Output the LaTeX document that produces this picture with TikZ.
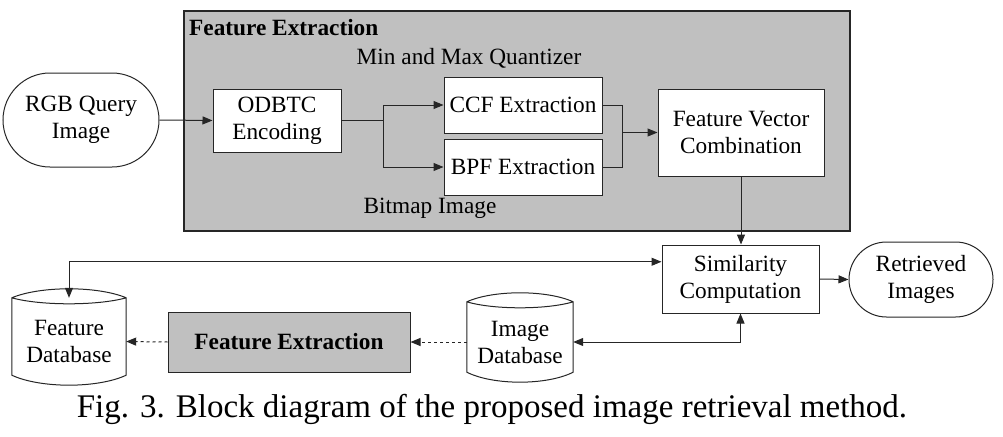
\documentclass[tikz,border=0pt]{standalone}
\usepackage{fontspec}
\setmainfont{Liberation Serif}
\usetikzlibrary{arrows.meta,calc}
\definecolor{boxgray}{RGB}{192,192,192}
\newcommand\cylout[1]{%
  \draw[line,fill=white] let \p1=(#1.north west), \p2=(#1.south east), \n1={\x2-\x1} in
    (\x1,\y1) .. controls ({\x1+0.25*\n1},{\y1+12pt}) and ({\x2-0.25*\n1},{\y1+12pt}) .. (\x2,\y1)
    -- (\x2,\y2+10pt) .. controls ({\x2-0.25*\n1},{\y2-3.3pt}) and ({\x1+0.25*\n1},{\y2-3.3pt}) .. (\x1,\y2+10pt) -- cycle
    (\x1,\y1) .. controls ({\x1+0.25*\n1},{\y1-8pt}) and ({\x2-0.25*\n1},{\y1-8pt}) .. (\x2,\y1);}
\begin{document}
\begin{tikzpicture}[x=1pt,y=-1pt,
  line/.style={draw=black!85,line width=1pt},
  arr/.style={line,-{Triangle[length=10pt,width=8pt]}},
  arrtwo/.style={line,{Triangle[length=10pt,width=8pt]}-{Triangle[length=10pt,width=8pt]}},
  txt/.style={font=\fontsize{23.3}{27}\selectfont,align=center,inner sep=0pt},
  boxw/.style={txt,line,fill=white},
  stad/.style={txt,line,fill=white},
  cyl/.style={txt}]
\useasboundingbox (0,0) rectangle (1003,436);
% big gray box
\node[line,fill=boxgray,line width=1.3pt,minimum width=666pt,minimum height=220pt,inner sep=0pt] (fe) at (517,121) {};
\node[txt,font=\fontsize{23.3}{27}\selectfont\bfseries,anchor=base west] (fetitle) at (189,36) {Feature Extraction};
\node[txt] (minmax) at (469,58) {Min and Max Quantizer};
\node[txt] (bitmap) at (430,208) {Bitmap Image};
% inner boxes
\node[boxw,minimum width=128pt,minimum height=63pt] (odbtc) at (277,120.5) {ODBTC\\Encoding};
\node[boxw,minimum width=158pt,minimum height=56pt] (ccf) at (523,105) {CCF Extraction};
\node[boxw,minimum width=158pt,minimum height=56pt] (bpf) at (523,167) {BPF Extraction};
\node[boxw,minimum width=166pt,minimum height=87pt] (fvc) at (741,132.5) {Feature Vector\\Combination};
% outside
\node[stad,minimum width=156pt,minimum height=94pt,rounded corners=47pt] (rgb) at (81,120) {RGB Query\\Image};
\node[boxw,minimum width=157pt,minimum height=68pt] (sim) at (740.5,279) {Similarity\\Computation};
\node[stad,minimum width=144pt,minimum height=75pt,rounded corners=37.5pt] (ret) at (921,279.5) {Retrieved\\Images};
\node[txt,line,fill=boxgray,minimum width=242pt,minimum height=60pt,font=\fontsize{23.3}{27}\selectfont\bfseries] (fe2) at (289,342) {Feature Extraction};
% cylinders
\node[cyl,minimum width=114pt,minimum height=87pt] (fdb) at (69,341.5) {};
\node[cyl,minimum width=106pt,minimum height=80pt] (idb) at (520,342) {};
\cylout{fdb}
\cylout{idb}
\node[txt] (fdbt) at (fdb) {Feature\\Database};
\node[txt] (idbt) at (idb.center) {Image\\Database};
% caption
\node[txt,font=\fontsize{33}{38}\selectfont] (cap) at (492,409) {Fig. 3. Block diagram of the proposed image retrieval method.};
% connectors
\coordinate (split) at (383,120.5);
\coordinate (join) at (622,132.5);
\draw[arr] (rgb.east) -- (odbtc.west);
\draw[line] (odbtc.east) -- (split);
\draw[arr] (split) |- (ccf.west);
\draw[arr] (split) |- (bpf.west);
\draw[line] (ccf.east) -| (join);
\draw[line] (bpf.east) -| (join);
\draw[arr] (join) -- (fvc.west);
\draw[arr] (fvc.south) -- (sim.north -| fvc.south);
\draw[arr] (sim.east) -- (ret.west);
\coordinate (simin) at ($(sim.north west)!0.25!(sim.south west)$);
\draw[arrtwo] (fdb.north) |- (simin);
\draw[arrtwo] (idb.east) -| (sim.south);
\draw[arr,dashed] (fe2.west) -- (fdb.east);
\draw[arr,dashed] (idb.west) -- (fe2.east);
\end{tikzpicture}
\end{document}
